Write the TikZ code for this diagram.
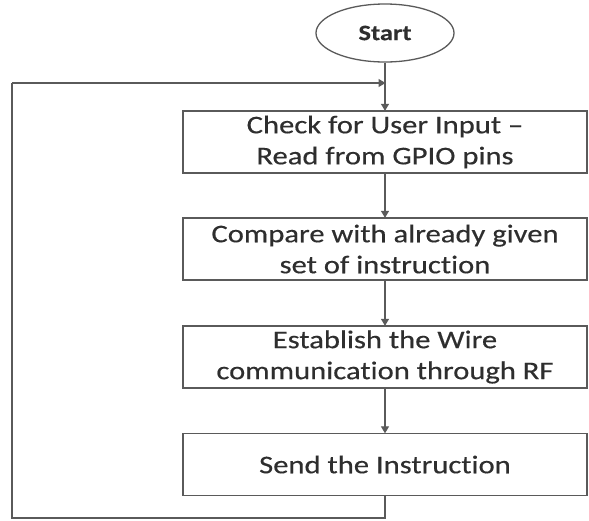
\documentclass[tikz,border=0pt]{standalone}
\usepackage{fontspec}
\setmainfont[FakeStretch=1.2,Ligatures={NoCommon},FakeBold=0.4]{Carlito}
\usetikzlibrary{arrows.meta,shapes.geometric}
\definecolor{linec}{HTML}{5A5A5A}
\definecolor{textc}{HTML}{2E2E2E}
\begin{document}
\begin{tikzpicture}[x=1pt,y=-1pt,
  stepbox/.style={draw=linec,line width=1.3pt,rectangle,minimum width=404pt,minimum height=62pt,
    align=center,text=textc,font=\fontsize{25.5}{31}\selectfont,inner sep=0pt},
  startnode/.style={draw=linec,line width=1.3pt,ellipse,minimum width=138pt,minimum height=58pt,
    text=textc,font=\fontsize{22}{24}\selectfont\bfseries,inner sep=0pt},
  conn/.style={draw=linec,line width=1.2pt},
  arr/.style={conn,-{Triangle[length=7pt,width=8pt]},shorten >=-0.5pt}]
\useasboundingbox (0,0) rectangle (589,520);
\node[startnode] (start) at (385,33) {Start};
\node[stepbox] (b1) at (385,142) {Check for User Input –\\Read from GPIO pins};
\node[stepbox] (b2) at (385,249) {Compare with already given\\set of instruction};
\node[stepbox] (b3) at (385,357) {Establish the Wire\\communication through RF};
\node[stepbox] (b4) at (385,464.5) {Send the Instruction};
\coordinate (join) at (385,83);
\coordinate (lowr) at (385,518);
\coordinate (lowl) at (12,518);
\coordinate (upl) at (12,83);
\draw[arr] (start.south) -- (b1.north);
\draw[arr] (b1.south) -- (b2.north);
\draw[arr] (b2.south) -- (b3.north);
\draw[arr] (b3.south) -- (b4.north);
\draw[conn] (b4.south) -- (lowr) -- (lowl) -- (upl);
\draw[arr] (upl) -- (join);
\end{tikzpicture}
\end{document}
